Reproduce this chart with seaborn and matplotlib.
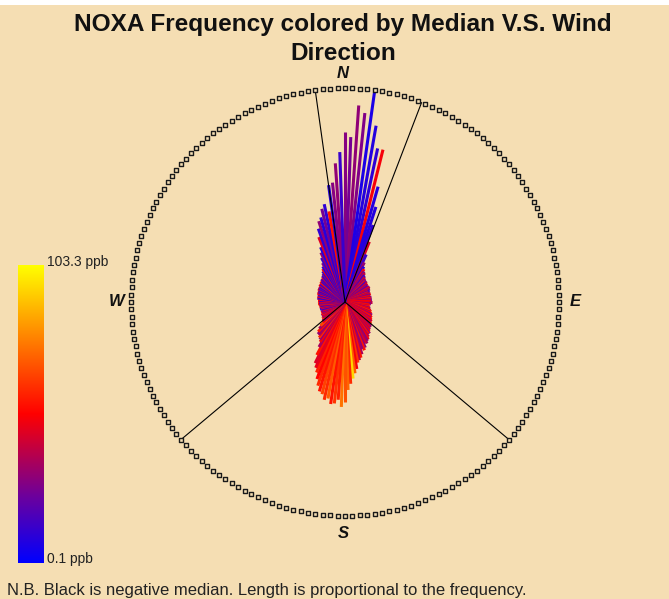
import numpy as np
import pandas as pd
import matplotlib
matplotlib.use("Agg")
import matplotlib.pyplot as plt
import seaborn as sns
from matplotlib.colors import LinearSegmentedColormap, Normalize
from matplotlib.patches import Rectangle

# ---------------- data ----------------
# wind direction bins (degrees, clockwise from North), 2-degree bins
direction = list(range(0, 360, 2))

# frequency (length of ray, circle = 214)
frequency = [
    170, 165, 197, 190, 212, 179, 157, 157, 120, 100,   # 0-18
    82, 65, 52, 44, 40, 38, 36, 35, 33, 32,             # 20-38
    31, 30, 29, 30, 28, 29, 28, 27, 28, 29,             # 40-58
    28, 28, 26, 27, 25, 26, 27, 26, 25, 26,             # 60-78
    27, 26, 25, 27, 26, 27, 25, 26, 24, 25,             # 80-98
    24, 25, 26, 25, 27, 28, 27, 29, 30, 29,             # 100-118
    31, 30, 32, 33, 32, 34, 35, 36, 35, 37,             # 120-138
    38, 40, 39, 42, 44, 45, 47, 46, 50, 52,             # 140-158
    50, 55, 58, 60, 62, 68, 72, 77, 82, 88,             # 160-178
    100, 105, 98, 102, 103, 98, 100, 95, 93, 88,        # 180-198
    82, 76, 72, 68, 60, 52, 47, 45, 44, 42,             # 200-218
    42, 40, 37, 34, 30, 29, 28, 28, 27, 26,             # 220-238
    27, 26, 25, 26, 25, 24, 25, 26, 25, 25,             # 240-258
    26, 25, 26, 27, 26, 26, 27, 26, 27, 28,             # 260-278
    27, 28, 27, 28, 29, 28, 29, 28, 30, 29,             # 280-298
    30, 29, 31, 30, 31, 32, 31, 33, 32, 34,             # 300-318
    35, 36, 38, 40, 42, 45, 50, 55, 60, 70,             # 320-338
    78, 85, 88, 96, 100, 92, 118, 120, 139, 150,        # 340-358
]

# median NOXA concentration (ppb) per bin
median = [
    28, 25, 30, 27, 6, 8, 10, 50, 8, 8,
    10, 45, 12, 30, 8, 50, 25, 40, 12, 30,
    45, 20, 55, 30, 10, 50, 28, 42, 15, 35,
    50, 30, 45, 20, 55, 32, 48, 25, 40, 52,
    30, 55, 45, 28, 50, 38, 52, 30, 48, 55,
    40, 55, 30, 50, 45, 58, 35, 52, 30, 48,
    55, 30, 50, 45, 32, 55, 42, 30, 50, 35,
    48, 32, 55, 38, 50, 30, 35, 45, 30, 55,
    30, 35, 55, 40, 62, 50, 70, 95, 60, 72,
    68, 75, 58, 62, 55, 70, 60, 65, 55, 60,
    52, 58, 48, 45, 55, 35, 50, 30, 60, 40,
    30, 55, 35, 65, 50, 28, 45, 60, 30, 50,
    35, 55, 28, 48, 20, 52, 30, 10, 45, 25,
    50, 12, 35, 55, 8, 30, 48, 10, 52, 25,
    8, 45, 28, 10, 50, 15, 30, 8, 42, 12,
    28, 6, 48, 10, 30, 55, 8, 25, 12, 45,
    8, 30, 10, 50, 6, 28, 12, 30, 8, 45,
    10, 30, 8, 25, 10, 55, 8, 28, 30, 12,
]

# sector boundary directions (degrees)
sector_edges = [352, 21, 130, 230]

cbar_min, cbar_max = 0.1, 103.3
compass = ["N", "E", "S", "W"]

# ---------------- style ----------------
BG = "#F5DEB3"
W, H = 669, 599
sns.set_theme(style="white")
plt.rcParams["font.family"] = ["Liberation Sans", "DejaVu Sans"]

cmap = LinearSegmentedColormap.from_list(
    "noxa", [(0.0, (0, 0, 1)), (0.22, (0.42, 0.0, 0.62)),
             (0.5, (1, 0, 0)), (0.75, (1, 0.5, 0)), (1.0, (1, 1, 0))])
norm = Normalize(cbar_min, cbar_max)

df = pd.DataFrame({"direction": direction, "frequency": frequency, "median": median})
df["theta"] = np.deg2rad(df["direction"])

fig = plt.figure(figsize=(W / 100, H / 100), dpi=100, facecolor=BG)
fig.patches.append(Rectangle((0, 1 - 5 / H), 1, 5 / H, transform=fig.transFigure,
                             facecolor="white", edgecolor="none"))

cx, cy, R = 345, 302, 214
RMAX = 214
ax = fig.add_axes([(cx - R) / W, (H - cy - R) / H, 2 * R / W, 2 * R / H], projection="polar")
ax.set_facecolor("none")
ax.set_theta_zero_location("N")
ax.set_theta_direction(-1)
ax.set_ylim(0, RMAX)
ax.grid(False)
ax.set_xticks([])
ax.set_yticks([])
ax.spines["polar"].set_visible(False)

# rays
ax.vlines(df["theta"], 0, df["frequency"], colors=cmap(norm(df["median"])),
          linewidth=2.2, zorder=3)

# sector lines
for d in sector_edges:
    t = np.deg2rad(d)
    ax.plot([t, t], [0, RMAX], color="black", linewidth=0.8, zorder=4)

# outer ring of square markers
ring = pd.DataFrame({"theta": np.deg2rad(np.arange(0, 360, 2.0)), "r": RMAX})
sns.scatterplot(data=ring, x="theta", y="r", ax=ax, marker="s", s=7,
                facecolor=BG, edgecolor="#1a1a1a", linewidth=1.0,
                clip_on=False, zorder=5, legend=False)
ax.set_xlabel("")
ax.set_ylabel("")

# compass labels
lab_pos = {"N": (343, 73), "E": (575, 302), "S": (343, 533), "W": (117, 302)}
for c in compass:
    x, y = lab_pos[c]
    fig.text(x / W, 1 - y / H, c, ha="center", va="center", fontsize=12,
             fontweight="bold", fontstyle="italic", color="#111111")

# title
fig.text(343 / W, 1 - 24 / H, "NOXA Frequency colored by Median V.S. Wind",
         ha="center", va="center", fontsize=17.6, fontweight="bold", color="#111111")
fig.text(343 / W, 1 - 53 / H, "Direction",
         ha="center", va="center", fontsize=17.6, fontweight="bold", color="#111111")

# colour bar
cax = fig.add_axes([18 / W, (H - 563) / H, 25 / W, 298 / H])
grad = np.linspace(cbar_min, cbar_max, 256).reshape(-1, 1)
cax.imshow(grad, aspect="auto", cmap=cmap, norm=norm, origin="lower")
cax.set_axis_off()
fig.text(47 / W, 1 - 262 / H, f"{cbar_max} ppb", ha="left", va="center", fontsize=10, color="#222222")
fig.text(47 / W, 1 - 559 / H, f"{cbar_min} ppb", ha="left", va="center", fontsize=10, color="#222222")

# footnote
fig.text(7 / W, 1 - 590 / H,
         "N.B. Black is negative median. Length is proportional to the frequency.",
         ha="left", va="center", fontsize=12, color="#222222")

fig.savefig("out.png", dpi=100, facecolor=BG)
